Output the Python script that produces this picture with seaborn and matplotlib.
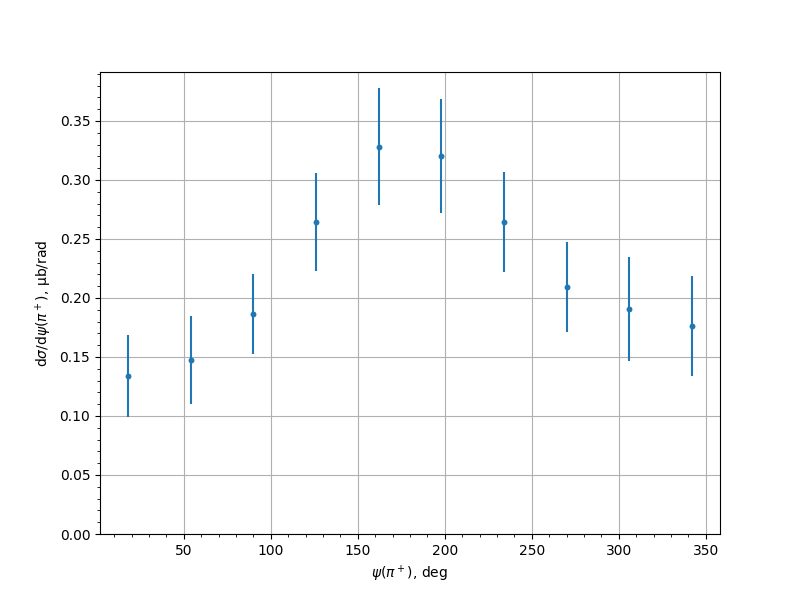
import matplotlib
matplotlib.use("Agg")
import matplotlib.pyplot as plt
import seaborn as sns
import pandas as pd

psi_deg = [18, 54, 90, 126, 162, 198, 234, 270, 306, 342]
dsigma = [0.134, 0.1475, 0.1865, 0.2645, 0.328, 0.3203, 0.2643, 0.2093, 0.1907, 0.1763]
dsigma_err = [0.0345, 0.0375, 0.034, 0.0415, 0.0496, 0.048, 0.0425, 0.038, 0.044, 0.042]

df = pd.DataFrame({"psi": psi_deg, "val": dsigma, "err": dsigma_err})

fig, ax = plt.subplots(figsize=(8, 6), dpi=100)
ax.errorbar(df["psi"], df["val"], yerr=df["err"], fmt="none", ecolor="#1f77b4", elinewidth=1.5)
sns.scatterplot(data=df, x="psi", y="val", ax=ax, color="#1f77b4", s=18, linewidth=0, zorder=3)

ax.set_ylim(bottom=0)
ax.minorticks_on()
ax.grid(True, which="major")
ax.set_axisbelow(True)
ax.set_xlabel(r"$\psi(\pi^+)$, deg")
ax.set_ylabel(r"d$\sigma$/d$\psi(\pi^+)$, μb/rad")

fig.savefig("out.png", dpi=100)
